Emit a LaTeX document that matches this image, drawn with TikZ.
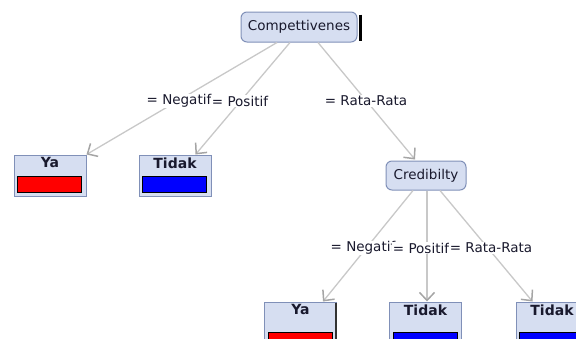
\documentclass[tikz,border=0pt]{standalone}
\usepackage{fontspec}
\setmainfont{DejaVu Sans}
\usetikzlibrary{arrows.meta,calc}
\definecolor{nodefill}{RGB}{214,222,241}
\definecolor{nodeline}{RGB}{128,144,184}
\definecolor{edgec}{RGB}{200,200,200}
\definecolor{tipc}{RGB}{165,165,165}
\definecolor{txt}{RGB}{25,25,45}
\tikzset{
  every node/.style={font=\fontsize{13.5}{16}\selectfont, text=txt},
  inner/.style={draw=nodeline, fill=nodefill, rounded corners=6pt, line width=1pt, inner sep=0pt},
  leafbox/.style={draw=nodeline, fill=nodefill, line width=1pt, minimum width=72pt, minimum height=41pt, inner sep=0pt},
  tallleaf/.style={leafbox, minimum height=52pt},
  leaftext/.style={font=\bfseries\fontsize{14}{16}\selectfont, anchor=north, inner sep=0pt},
  bar/.style={draw=black, line width=1pt},
  conn/.style={draw=edgec, line width=1.3pt, -{Straight Barb[length=8pt,width=15pt,line width=1.5pt,color=tipc]}},
  lbl/.style={fill=white, inner sep=0.5pt}
}
\begin{document}
\begin{tikzpicture}[x=1pt,y=-1pt]
\useasboundingbox (0,0) rectangle (576,338);
\clip (0,0) rectangle (576,338);
% inner nodes
\node[inner, minimum width=116pt, minimum height=30pt] (comp) at (299,27) {Compettivenes};
\draw[black, line width=2.5pt] ($(comp.north east)+(3,3)$) -- ($(comp.south east)+(3,-2)$);
\node[inner, minimum width=80pt, minimum height=29pt] (cred) at (426,175.5) {Credibilty};
% leaves top
\node[leafbox] (ya1) at (50,175.5) {};
\node[leaftext] at ($(ya1.north)+(0,3)$) {Ya};
\draw[bar, fill=red] ($(ya1.south west)+(4,-4)$) rectangle ($(ya1.south east)+(-5,-20)$);
\node[leafbox] (td1) at (175,175.5) {};
\node[leaftext] at ($(td1.north)+(0,3)$) {Tidak};
\draw[bar, fill=blue] ($(td1.south west)+(4,-4)$) rectangle ($(td1.south east)+(-5,-20)$);
% leaves bottom
\node[tallleaf] (ya2) at (300.5,328) {};
\node[leaftext] at ($(ya2.north)+(0,3)$) {Ya};
\draw[bar, fill=red] ($(ya2.north west)+(4,31)$) rectangle ($(ya2.north east)+(-5,47)$);
\draw[black!80, line width=2pt] ($(ya2.north east)+(-1,1)$) -- ($(ya2.south east)+(-1,0)$);
\node[tallleaf] (td2) at (425.5,328) {};
\node[leaftext] at ($(td2.north)+(0,3)$) {Tidak};
\draw[bar, fill=blue] ($(td2.north west)+(4,31)$) rectangle ($(td2.north east)+(-5,47)$);
\node[tallleaf] (td3) at (552,328) {};
\node[leaftext] at ($(td3.north)+(0,3)$) {Tidak};
\draw[bar, fill=blue] ($(td3.north west)+(4,31)$) rectangle ($(td3.north east)+(-5,47)$);
% connectors
\draw[conn] ($(comp.south)+(-22,0)$) -- (ya1.north east);
\draw[conn] ($(comp.south)+(-9,0)$) -- ($(td1.north east)+(-16,0)$);
\draw[conn] ($(comp.south)+(19,0)$) -- ($(cred.north)+(-11,-1)$);
\draw[conn] ($(cred.south)+(-13,0)$) -- ($(ya2.north east)+(-14,0)$);
\draw[conn] ($(cred.south)+(1,0)$) -- ($(td2.north)+(1.5,0)$);
\draw[conn] ($(cred.south)+(14,0)$) -- ($(td3.north west)+(17,0)$);
% labels
\node[lbl] (l1) at (179,101) {= Negatif};
\node[lbl] (l2) at (240,101) {= Positif};
\node[lbl] (l3) at (366,101) {= Rata-Rata};
\node[lbl] (l4) at (363,248) {= Negatif};
\node[lbl] (l5) at (421,248) {= Positif};
\node[lbl] (l6) at (491,248) {= Rata-Rata};
\end{tikzpicture}
\end{document}
